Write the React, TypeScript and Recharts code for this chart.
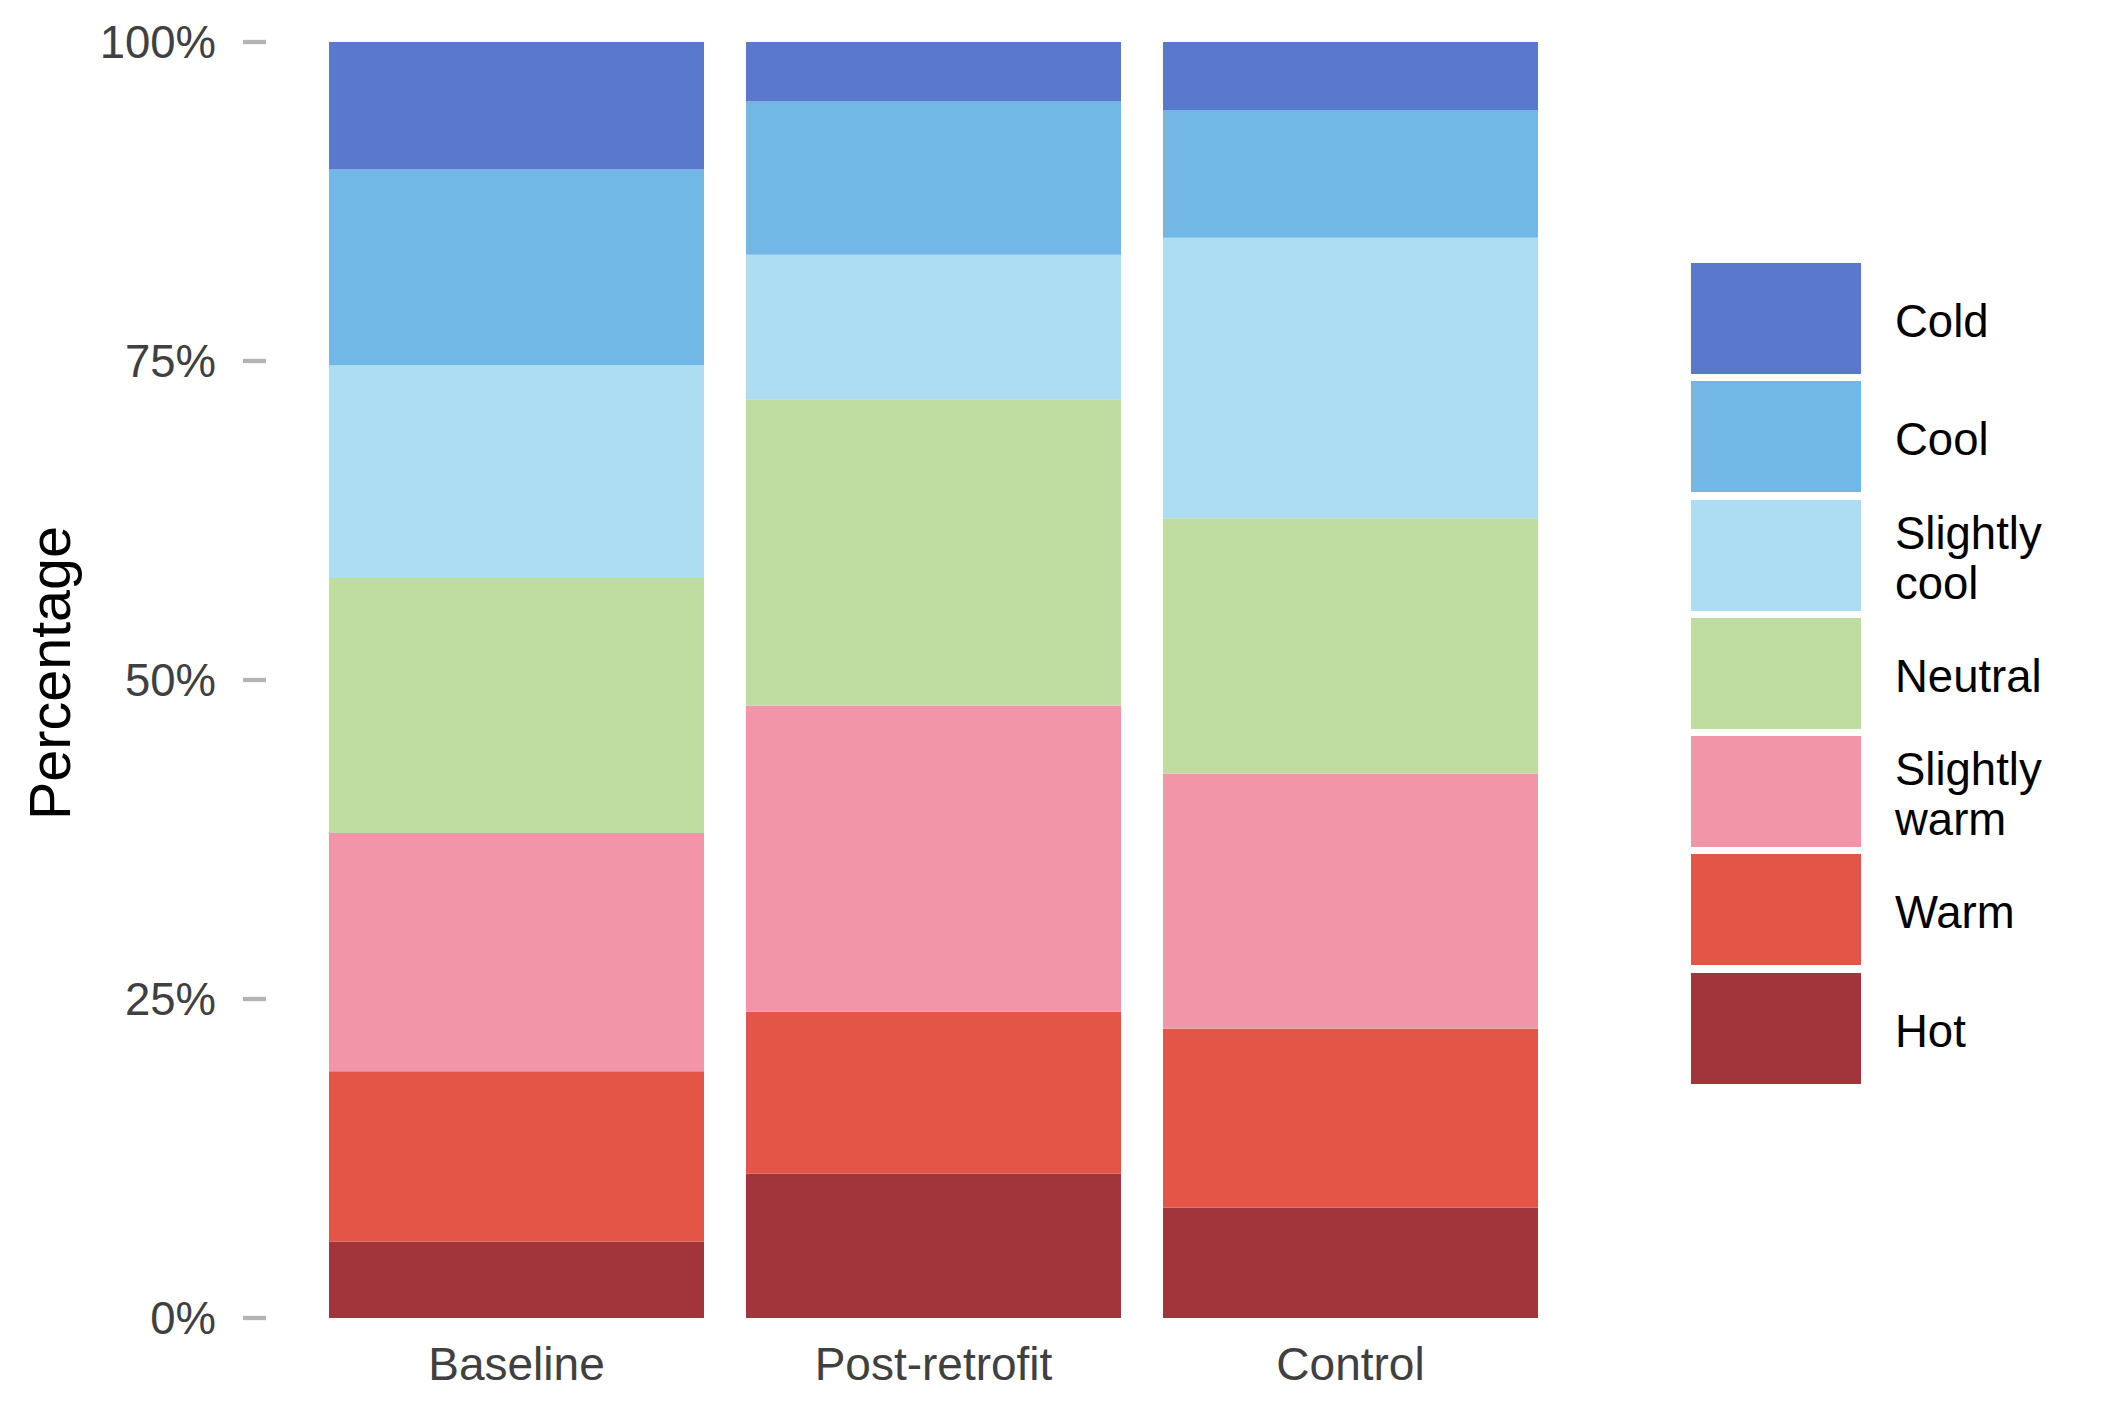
import React from "react";
import { BarChart, Bar, XAxis, YAxis, Legend } from "recharts";

// counts of votes per period (150 respondents each)
const periods = ["Baseline", "Post-retrofit", "Control"];
const hot = [9, 17, 13];
const warm = [20, 19, 21];
const slightlyWarm = [28, 36, 30];
const neutral = [30, 36, 30];
const slightlyCool = [25, 17, 33];
const cool = [23, 18, 15];
const cold = [15, 7, 8];

const yTicks = [0, 0.25, 0.5, 0.75, 1];

// bottom of the stack first
const series = [
  { key: "hot", name: "Hot", values: hot, color: "#A2343B" },
  { key: "warm", name: "Warm", values: warm, color: "#E35547" },
  { key: "slightlyWarm", name: "Slightly\nwarm", values: slightlyWarm, color: "#F295A8" },
  { key: "neutral", name: "Neutral", values: neutral, color: "#BFDCA1" },
  { key: "slightlyCool", name: "Slightly\ncool", values: slightlyCool, color: "#ACDDF3" },
  { key: "cool", name: "Cool", values: cool, color: "#72B8E7" },
  { key: "cold", name: "Cold", values: cold, color: "#5A78CC" },
];

const rows = periods.map((p, i) => {
  const r: Record<string, string | number> = { period: p };
  series.forEach((s) => {
    r[s.key] = s.values[i];
  });
  return r;
});

const FONT = "'Liberation Sans', Arial, Helvetica, sans-serif";

const renderLegend = () => (
  <div style={{ fontFamily: FONT }}>
    {[...series].reverse().map((s) => (
      <div
        key={s.key}
        style={{ display: "flex", alignItems: "center", height: 111, marginBottom: 7.3 }}
      >
        <div style={{ width: 170, height: 111, background: s.color }} />
        <div
          style={{
            marginLeft: 34,
            position: "relative",
            top: 3.5,
            fontSize: 45.5,
            lineHeight: "50px",
            color: "#000",
            whiteSpace: "pre-line",
          }}
        >
          {s.name}
        </div>
      </div>
    ))}
  </div>
);

const yLabel = () => (
  <text
    transform="translate(70, 673) rotate(-90)"
    textAnchor="middle"
    fontFamily={FONT}
    fontSize={57.5}
    fill="#000"
  >
    Percentage
  </text>
);

export default function App() {
  return (
    <div style={{ position: "absolute", left: 0, top: 0, background: "#fff" }}>
      <BarChart
        width={2102}
        height={1417}
        data={rows}
        stackOffset="expand"
        barSize={375}
        margin={{ top: 42, right: 501, bottom: 19, left: 0 }}
      >
        <XAxis
          dataKey="period"
          padding={{ left: 42, right: 42 }}
          axisLine={false}
          tickLine={false}
          tickSize={0}
          tickMargin={29}
          height={80}
          tick={{ fill: "#404040", fontSize: 46, fontFamily: FONT }}
        />
        <YAxis
          width={266}
          domain={[0, 1]}
          ticks={yTicks}
          tickFormatter={(v: number) => `${Math.round(v * 100)}%`}
          axisLine={false}
          tickSize={23}
          tickMargin={27}
          tickLine={{ stroke: "#B3B3B3", strokeWidth: 4.3 }}
          tick={{ fill: "#404040", fontSize: 45.5, fontFamily: FONT }}
          label={yLabel}
        />
        {series.map((s) => (
          <Bar
            key={s.key}
            dataKey={s.key}
            name={s.name}
            stackId="a"
            fill={s.color}
            isAnimationActive={false}
          />
        ))}
        <Legend
          layout="vertical"
          align="center"
          verticalAlign="middle"
          content={renderLegend}
          wrapperStyle={{ left: 1691, top: 263, width: 400 }}
        />
      </BarChart>
    </div>
  );
}
